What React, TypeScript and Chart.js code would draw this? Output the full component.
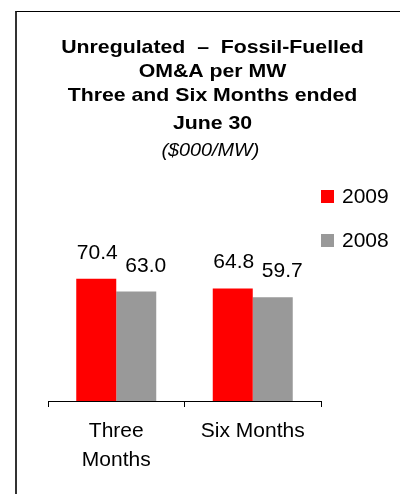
import React, { useEffect, useRef } from "react";
import { Chart, registerables } from "chart.js";

Chart.register(...registerables);

// ---- data ----
const categories: (string | string[])[] = [["Three", "Months"], "Six Months"];
const seriesNames = ["2009", "2008"];
const values2009 = [70.4, 64.8];
const values2008 = [63.0, 59.7];
const seriesColors = ["#FF0000", "#999999"];
const titleLines = [
  "Unregulated  –  Fossil-Fuelled",
  "OM&A per MW",
  "Three and Six Months ended",
  "June 30",
];
const subtitleText = "($000/MW)";

const FONT = "'Liberation Sans', Arial, Helvetica, sans-serif";

// draws the multi-line title (horizontally widened like the original)
const titlePlugin = {
  id: "customTitle",
  afterDraw(chart: any) {
    const ctx = chart.ctx as CanvasRenderingContext2D;
    const cx = 212.5;
    const baselines = [52.5, 77, 101, 129];
    ctx.save();
    ctx.fillStyle = "#000";
    ctx.textAlign = "center";
    ctx.textBaseline = "alphabetic";
    ctx.translate(cx, 0);
    ctx.save();
    ctx.scale(1.15, 1);
    ctx.font = `bold 18.5px ${FONT}`;
    titleLines.forEach((t, i) => ctx.fillText(t, 0, baselines[i]));
    ctx.restore();
    ctx.save();
    ctx.scale(1.07, 1);
    ctx.font = `italic 18.5px ${FONT}`;
    ctx.fillText(subtitleText, -2, 155.5);
    ctx.restore();
    ctx.restore();
  },
};

// value labels above bars
const valueLabelPlugin = {
  id: "valueLabels",
  afterDatasetsDraw(chart: any) {
    const ctx = chart.ctx as CanvasRenderingContext2D;
    const dx = [1, 9.5];
    ctx.save();
    ctx.fillStyle = "#000";
    ctx.font = `21px ${FONT}`;
    ctx.textAlign = "center";
    ctx.textBaseline = "alphabetic";
    chart.data.datasets.forEach((ds: any, di: number) => {
      const meta = chart.getDatasetMeta(di);
      meta.data.forEach((el: any, i: number) => {
        const v = ds.data[i] as number;
        ctx.fillText(v.toFixed(1), el.x + dx[di], el.y - 20);
      });
    });
    ctx.restore();
  },
};

// legend at the right of the plot
const sideLegendPlugin = {
  id: "sideLegend",
  afterDraw(chart: any) {
    const ctx = chart.ctx as CanvasRenderingContext2D;
    const x0 = chart.chartArea.right;
    const tops = [190, 234];
    ctx.save();
    ctx.font = `21px ${FONT}`;
    ctx.textAlign = "left";
    ctx.textBaseline = "alphabetic";
    chart.data.datasets.forEach((ds: any, i: number) => {
      ctx.fillStyle = ds.backgroundColor as string;
      ctx.fillRect(x0, tops[i], 13, 13);
      ctx.fillStyle = "#000";
      ctx.fillText(ds.label, x0 + 21, tops[i] + 12.5);
    });
    ctx.restore();
  },
};

export default function App() {
  const canvasRef = useRef<HTMLCanvasElement | null>(null);

  useEffect(() => {
    document.body.style.margin = "0";
    const canvas = canvasRef.current;
    if (!canvas) return;
    Chart.defaults.font.family = FONT;
    const chart = new Chart(canvas, {
      type: "bar",
      data: {
        labels: categories,
        datasets: [
          {
            label: seriesNames[0],
            data: values2009,
            backgroundColor: seriesColors[0],
            borderWidth: 0,
            categoryPercentage: 0.586,
            barPercentage: 1,
          },
          {
            label: seriesNames[1],
            data: values2008,
            backgroundColor: seriesColors[1],
            borderWidth: 0,
            categoryPercentage: 0.586,
            barPercentage: 1,
          },
        ],
      },
      options: {
        responsive: false,
        animation: false,
        layout: { padding: { left: 48, right: 79, top: 262, bottom: 9 } },
        plugins: {
          legend: { display: false },
          title: { display: false },
          tooltip: { enabled: false },
        },
        scales: {
          x: {
            offset: true,
            grid: {
              offset: true,
              drawOnChartArea: false,
              drawTicks: true,
              tickLength: 6,
              color: "#000",
            },
            border: { display: true, color: "#000", width: 1 },
            ticks: {
              color: "#000",
              font: { size: 21, family: FONT, lineHeight: "29px" },
              padding: 10,
              maxRotation: 0,
              minRotation: 0,
              autoSkip: false,
            },
          },
          y: {
            display: false,
            min: 0,
            max: 80,
          },
        },
      },
      plugins: [valueLabelPlugin, titlePlugin, sideLegendPlugin],
    });
    return () => chart.destroy();
  }, []);

  return (
    <div style={{ position: "relative", width: 400, height: 494, overflow: "hidden", background: "#fff" }}>
      <div
        style={{
          position: "absolute",
          left: 15,
          top: 11,
          width: 420,
          height: 520,
          borderLeft: "2px solid #333",
          borderTop: "1px solid #000",
        }}
      />
      <canvas
        ref={canvasRef}
        width={400}
        height={494}
        style={{ position: "absolute", left: 0, top: 0, width: 400, height: 494 }}
      />
    </div>
  );
}
